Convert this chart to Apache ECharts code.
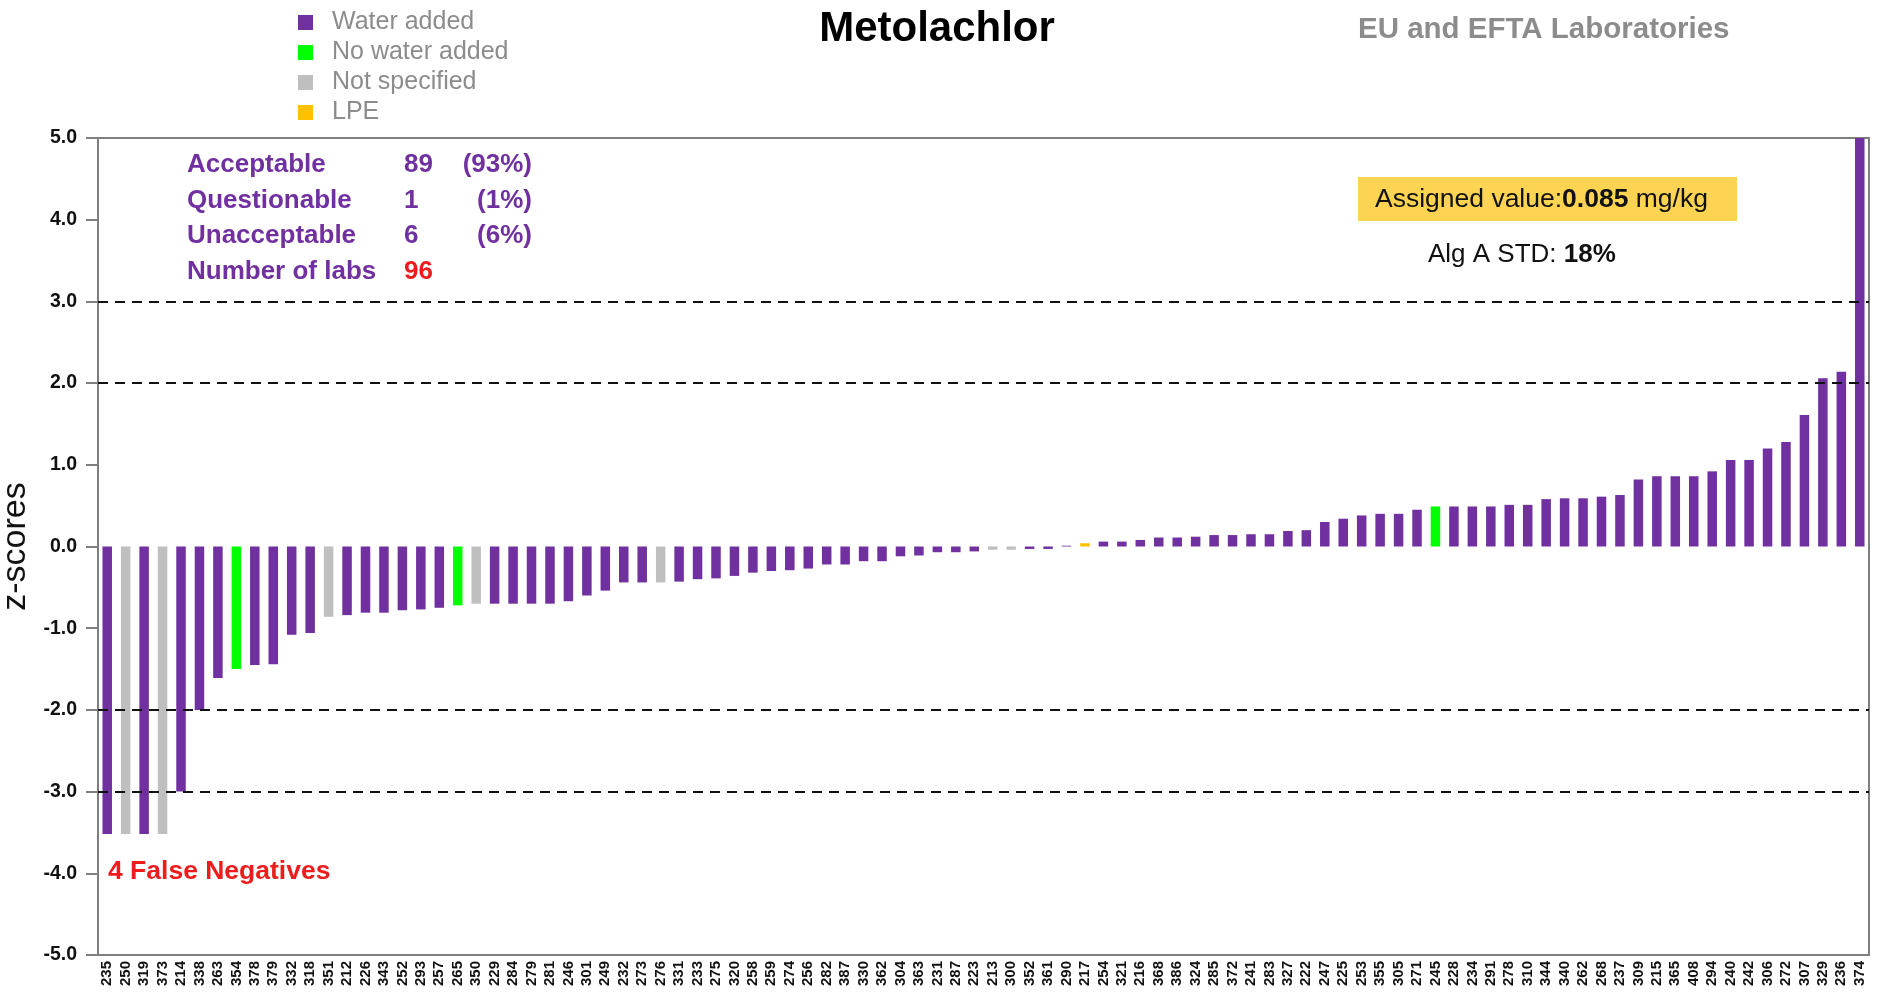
<!DOCTYPE html>
<html>
<head>
<meta charset="utf-8">
<script src="https://cdn.jsdelivr.net/npm/echarts@6.0.0/dist/echarts.min.js"></script>
<style>
  html, body { margin: 0; padding: 0; background: #fff; }
  #chart { width: 1881px; height: 995px; }
</style>
</head>
<body>
<div id="chart"></div>
<script>
// lab codes, in the order they are plotted
const labs = [
  '235','250','319','373','214','338','263','354','378','379','332','318','351','212','226','343','252','293','257','265','350',
  '229','284','279','281','246','301','249','232','273','276','331','233','275','320','258','259','274','256','282','387','330',
  '362','304','363','231','287','223','213','300','352','361','290','217','254','321','216','368','386','324','285','372','241',
  '283','327','222','247','225','253','355','305','271','245','228','234','291','278','310','344','340','262','268','237',
  '309','215','365','408','294','240','242','306','272','307','329','236','374'
];

// z-score of each lab
const zScores = [
  -3.52,-3.52,-3.52,-3.52,-3.00,-2.00,-1.61,-1.50,-1.45,-1.44,-1.08,-1.06,-0.86,-0.84,-0.81,-0.81,-0.78,-0.77,-0.75,-0.72,-0.70,
  -0.70,-0.70,-0.70,-0.70,-0.67,-0.60,-0.54,-0.44,-0.44,-0.44,-0.43,-0.40,-0.39,-0.36,-0.32,-0.30,-0.29,-0.27,-0.22,-0.22,-0.18,
  -0.18,-0.12,-0.11,-0.07,-0.07,-0.06,-0.04,-0.04,-0.03,-0.03,0.01,0.04,0.06,0.06,0.08,0.11,0.11,0.12,0.14,0.14,0.15,
  0.15,0.19,0.20,0.30,0.34,0.38,0.40,0.40,0.45,0.49,0.49,0.49,0.49,0.51,0.51,0.58,0.59,0.59,0.61,0.63,
  0.82,0.86,0.86,0.86,0.92,1.06,1.06,1.20,1.28,1.61,2.06,2.14,5.0
];

// W = water added, N = no water added, U = not specified, L = LPE
const labGroup = [
  'W','U','W','U','W','W','W','N','W','W','W','W','U','W','W','W','W','W','W','N','U',
  'W','W','W','W','W','W','W','W','W','U','W','W','W','W','W','W','W','W','W','W','W',
  'W','W','W','W','W','W','U','U','W','W','W','L','W','W','W','W','W','W','W','W','W',
  'W','W','W','W','W','W','W','W','W','N','W','W','W','W','W','W','W','W','W','W',
  'W','W','W','W','W','W','W','W','W','W','W','W','W'
];

const groupCodes = ['W', 'N', 'U', 'L'];
const groupNames = ['Water added', 'No water added', 'Not specified', 'LPE'];
const groupColors = ['#7030A0', '#00FF00', '#BFBFBF', '#FFC000'];

// limit lines for |z| = 2 and 3
const limitLines = [3, 2, -2, -3];

// summary box
const summaryRows = [
  ['Acceptable', '89', '(93%)'],
  ['Questionable', '1', '(1%)'],
  ['Unacceptable', '6', '(6%)'],
  ['Number of labs', '96', '']
];

const FONT = 'Liberation Sans, Arial, sans-serif';
const PURPLE = '#7030A0';

const series = groupCodes.map(function (code, k) {
  const s = {
    name: groupNames[k],
    type: 'bar',
    barWidth: 9.5,
    barGap: '-100%',
    itemStyle: { color: groupColors[k] },
    data: zScores.map(function (v, i) { return labGroup[i] === code ? v : '-'; })
  };
  if (k === 0) {
    s.markLine = {
      silent: true,
      symbol: 'none',
      label: { show: false },
      lineStyle: { color: '#111', width: 2, type: [10, 7] },
      data: limitLines.map(function (y) { return { yAxis: y }; })
    };
  }
  return s;
});

const graphic = [];
summaryRows.forEach(function (row, r) {
  const y = 165 + r * 35.5;
  graphic.push({ type: 'text', x: 187, y: y, style: { text: row[0], fill: PURPLE, font: 'bold 26px ' + FONT, verticalAlign: 'middle' } });
  graphic.push({ type: 'text', x: 404, y: y, style: { text: row[1], fill: r === 3 ? '#EE1C1C' : PURPLE, font: 'bold 26px ' + FONT, verticalAlign: 'middle' } });
  if (row[2]) {
    graphic.push({ type: 'text', x: 532, y: y, style: { text: row[2], fill: PURPLE, font: 'bold 26px ' + FONT, align: 'right', verticalAlign: 'middle' } });
  }
});
graphic.push(
  { type: 'rect', shape: { x: 1358, y: 177, width: 379, height: 44 }, style: { fill: '#FDD451' } },
  {
    type: 'text', x: 1375, y: 200,
    style: {
      text: '{n|Assigned value:}{b|0.085}{n| mg/kg}',
      verticalAlign: 'middle',
      rich: {
        n: { fontFamily: FONT, fontSize: 26.5, fill: '#111' },
        b: { fontFamily: FONT, fontSize: 26.5, fontWeight: 'bold', fill: '#111' }
      }
    }
  },
  {
    type: 'text', x: 1428, y: 255,
    style: {
      text: '{n|Alg A STD: }{b|18%}',
      verticalAlign: 'middle',
      rich: {
        n: { fontFamily: FONT, fontSize: 26, fill: '#111' },
        b: { fontFamily: FONT, fontSize: 26, fontWeight: 'bold', fill: '#111' }
      }
    }
  },
  { type: 'text', x: 937, y: 29, style: { text: 'Metolachlor', fill: '#000', font: 'bold 42px ' + FONT, align: 'center', verticalAlign: 'middle' } },
  { type: 'text', x: 1358, y: 30, style: { text: 'EU and EFTA Laboratories', fill: '#8C8C8C', font: 'bold 29.5px ' + FONT, verticalAlign: 'middle' } },
  { type: 'text', x: 108, y: 872, style: { text: '4 False Negatives', fill: '#EE1C1C', font: 'bold 26.5px ' + FONT, verticalAlign: 'middle' } }
);

const option = {
  animation: false,
  legend: {
    orient: 'vertical',
    left: 293,
    top: 5,
    itemWidth: 15,
    itemHeight: 15,
    itemGap: 5,
    icon: 'rect',
    data: groupNames,
    textStyle: { color: '#8C8C8C', fontSize: 25, fontFamily: FONT, padding: [0, 0, 0, 14] }
  },
  grid: {
    left: 98,
    right: 12,
    top: 138,
    bottom: 40,
    outerBoundsMode: 'none',
    show: true,
    borderColor: '#7F7F7F',
    borderWidth: 2
  },
  xAxis: {
    type: 'category',
    data: labs,
    axisTick: { show: false },
    axisLine: { onZero: false, lineStyle: { color: '#7F7F7F', width: 2 } },
    axisLabel: {
      interval: 0,
      rotate: 90,
      margin: 6,
      color: '#111',
      fontSize: 15,
      fontWeight: 'bold',
      fontFamily: FONT
    }
  },
  yAxis: {
    type: 'value',
    min: -5,
    max: 5,
    interval: 1,
    name: 'z-scores',
    nameLocation: 'middle',
    nameGap: 57,
    nameRotate: 90,
    nameTextStyle: { color: '#111', fontSize: 34, fontFamily: FONT },
    splitLine: { show: false },
    axisLine: { show: true, lineStyle: { color: '#7F7F7F', width: 2 } },
    axisTick: { show: true, length: 12, lineStyle: { color: '#7F7F7F', width: 2 } },
    axisLabel: {
      margin: 21,
      color: '#111',
      fontSize: 19.5,
      fontWeight: 'bold',
      fontFamily: FONT,
      formatter: function (v) { return v.toFixed(1); }
    }
  },
  graphic: graphic,
  series: series
};

const chart = echarts.init(document.getElementById('chart'));
chart.setOption(option);
</script>
</body>
</html>
